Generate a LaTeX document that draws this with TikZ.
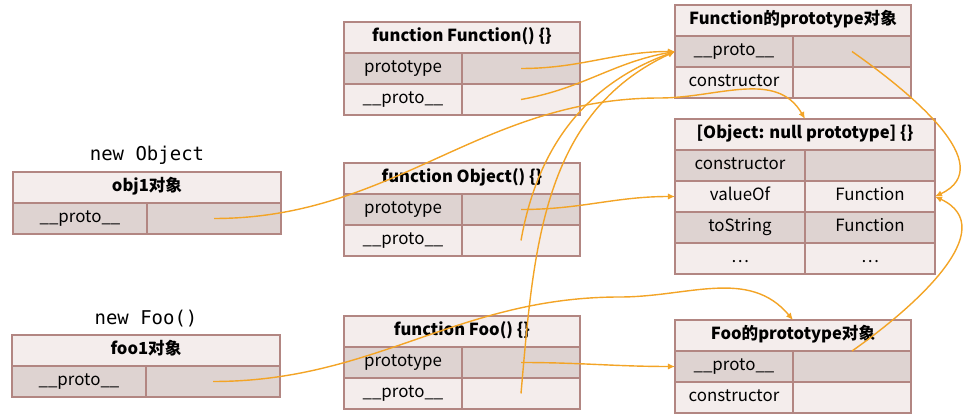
\documentclass[tikz,border=0pt]{standalone}
\usepackage{fontspec}
\setmainfont{Noto Sans CJK SC}
\newfontfamily\codefont{DejaVu Sans Mono}
\usetikzlibrary{positioning,arrows.meta}
\definecolor{tbline}{RGB}{178,134,130}
\definecolor{rowdark}{RGB}{222,211,209}
\definecolor{rowlight}{RGB}{244,237,236}
\definecolor{ptrcol}{RGB}{243,164,38}
\tikzset{
  cell/.style={draw=tbline, line width=0.9pt, inner sep=0pt, outer sep=0pt,
    minimum height=0.775cm, minimum width=#1, text height=1.6ex, text depth=0.5ex,
    font=\fontsize{12}{14}\selectfont},
  head/.style={cell=#1, fill=rowlight, font=\bfseries\fontsize{11.8}{14}\selectfont},
  dk/.style={fill=rowdark}, lt/.style={fill=rowlight},
  ptr/.style={draw=ptrcol, line width=1pt, ->},
  newlbl/.style={font=\codefont\fontsize{13.5}{16}\selectfont}
}

\begin{document}
\begin{tikzpicture}[>={Latex[length=5pt,width=4.5pt]}]
  \useasboundingbox (0,0) rectangle (24.1,10.45);

  % function Function() {}
  \node[head=5.9cm, anchor=north west] (ff) at (8.6,9.9) {function Function() \{\}};
  \node[cell=2.95cm, dk, below right=0pt and 0pt of ff.south west] (ff-p) {prototype};
  \node[cell=2.95cm, dk, right=0pt of ff-p] (ff-pv) {};
  \node[cell=2.95cm, lt, below=0pt of ff-p] (ff-u) {\_\_proto\_\_};
  \node[cell=2.95cm, lt, right=0pt of ff-u] (ff-uv) {};

  % Function的prototype对象
  \node[head=5.9cm, anchor=north west] (fp) at (16.875,10.325) {Function的prototype对象};
  \node[cell=2.95cm, dk, below right=0pt and 0pt of fp.south west] (fp-u) {\_\_proto\_\_};
  \node[cell=2.95cm, dk, right=0pt of fp-u] (fp-uv) {};
  \node[cell=2.95cm, lt, below=0pt of fp-u] (fp-c) {constructor};
  \node[cell=2.95cm, lt, right=0pt of fp-c] (fp-cv) {};

  % [Object: null prototype] {}
  \node[head=6.5cm, anchor=north west] (np) at (16.875,7.475) {[Object: null prototype] \{\}};
  \node[cell=3.25cm, dk, below right=0pt and 0pt of np.south west] (np-c) {constructor};
  \node[cell=3.25cm, dk, right=0pt of np-c] (np-cv) {};
  \node[cell=3.25cm, lt, below=0pt of np-c] (np-v) {valueOf};
  \node[cell=3.25cm, lt, right=0pt of np-v] (np-vv) {Function};
  \node[cell=3.25cm, dk, below=0pt of np-v] (np-s) {toString};
  \node[cell=3.25cm, dk, right=0pt of np-s] (np-sv) {Function};
  \node[cell=3.25cm, lt, below=0pt of np-s] (np-e) {…};
  \node[cell=3.25cm, lt, right=0pt of np-e] (np-ev) {…};

  % obj1对象
  \node[head=6.7cm, anchor=north west] (o1) at (0.325,6.15) {obj1对象};
  \node[cell=3.35cm, dk, below right=0pt and 0pt of o1.south west] (o1-u) {\_\_proto\_\_};
  \node[cell=3.35cm, dk, right=0pt of o1-u] (o1-uv) {};
  \node[newlbl, above=2pt of o1] (lbl-obj) {new Object};

  % function Object() {}
  \node[head=5.9cm, anchor=north west] (fo) at (8.6,6.375) {function Object() \{\}};
  \node[cell=2.95cm, dk, below right=0pt and 0pt of fo.south west] (fo-p) {prototype};
  \node[cell=2.95cm, dk, right=0pt of fo-p] (fo-pv) {};
  \node[cell=2.95cm, lt, below=0pt of fo-p] (fo-u) {\_\_proto\_\_};
  \node[cell=2.95cm, lt, right=0pt of fo-u] (fo-uv) {};

  % foo1对象
  \node[head=6.7cm, anchor=north west] (f1) at (0.3,2.075) {foo1对象};
  \node[cell=3.35cm, dk, below right=0pt and 0pt of f1.south west] (f1-u) {\_\_proto\_\_};
  \node[cell=3.35cm, dk, right=0pt of f1-u] (f1-uv) {};
  \node[newlbl, above=2pt of f1] (lbl-foo) {new Foo()};

  % function Foo() {}
  \node[head=5.9cm, anchor=north west] (fb) at (8.6,2.55) {function Foo() \{\}};
  \node[cell=2.95cm, dk, below right=0pt and 0pt of fb.south west] (fb-p) {prototype};
  \node[cell=2.95cm, dk, right=0pt of fb-p] (fb-pv) {};
  \node[cell=2.95cm, lt, below=0pt of fb-p] (fb-u) {\_\_proto\_\_};
  \node[cell=2.95cm, lt, right=0pt of fb-u] (fb-uv) {};

  % Foo的prototype对象
  \node[head=5.9cm, anchor=north west] (fbp) at (16.875,2.45) {Foo的prototype对象};
  \node[cell=2.95cm, dk, below right=0pt and 0pt of fbp.south west] (fbp-u) {\_\_proto\_\_};
  \node[cell=2.95cm, dk, right=0pt of fbp-u] (fbp-uv) {};
  \node[cell=2.95cm, lt, below=0pt of fbp-u] (fbp-c) {constructor};
  \node[cell=2.95cm, lt, right=0pt of fbp-c] (fbp-cv) {};

  % pointers
  \coordinate (o1-bend) at (16.5,8.0);
  \coordinate (f1-bend) at (15.5,3.025);
  \draw[ptr] (ff-pv.center) to[out=0,in=180] (fp-u.west);
  \draw[ptr] (ff-uv.center) to[out=10,in=190] (fp-u.west);
  \draw[ptr] (fo-uv.center) to[out=80,in=200] (fp-u.west);
  \draw[ptr] (fb-uv.center) to[out=85,in=205] (fp-u.west);
  \draw[ptr] (o1-uv.center) to[out=0,in=180] (o1-bend) to[out=0,in=120] (np.north);
  \draw[ptr] (f1-uv.center) to[out=0,in=180] (f1-bend) to[out=0,in=130] (fbp.north);
  \draw[ptr] (fo-pv.center) to[out=0,in=180] (np-v.west);
  \draw[ptr] (fb-pv.center) to[out=0,in=180] (fbp-u.west);
  \draw[ptr] (fp-uv.center) to[out=-35,in=25,looseness=1.1] (np-vv.east);
  \draw[ptr] (fbp-uv.north) to[out=35,in=-25,looseness=1.1] (np-vv.east);
\end{tikzpicture}
\end{document}
